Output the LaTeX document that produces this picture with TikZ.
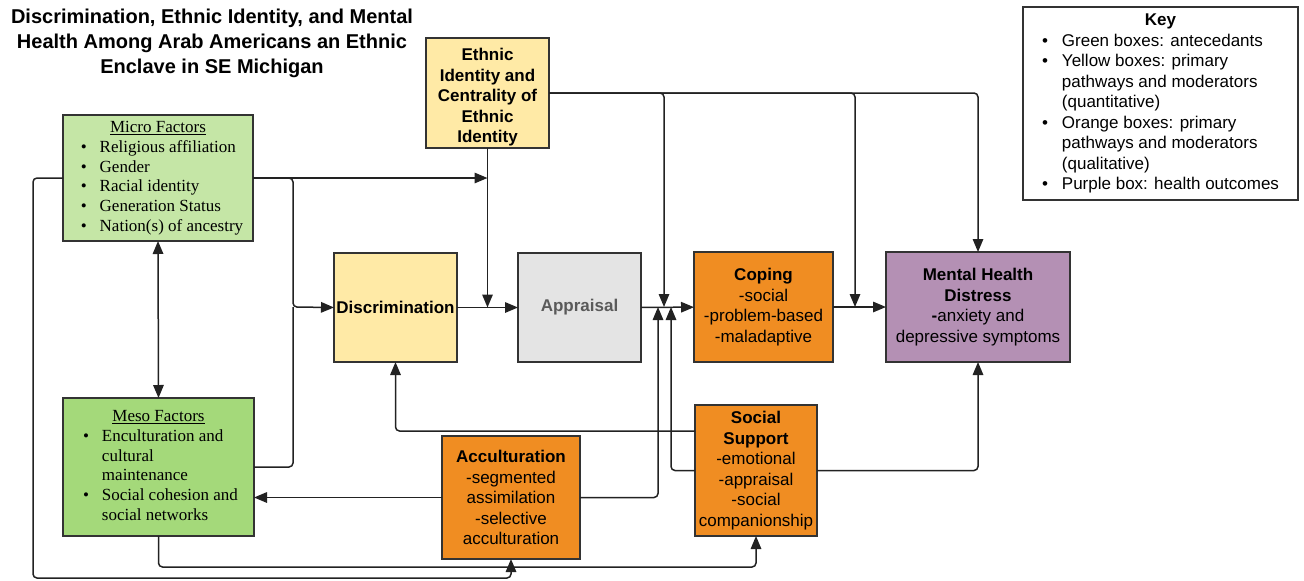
\documentclass[tikz,border=0pt]{standalone}
\usepackage{fontspec}
\setmainfont{Liberation Sans}
\newfontfamily\serifface{Liberation Serif}
\usetikzlibrary{arrows.meta}

\definecolor{microgreen}{HTML}{C5E6A6}
\definecolor{mesogreen}{HTML}{A4D97A}
\definecolor{idyellow}{HTML}{FFEAA6}
\definecolor{appgray}{HTML}{E4E4E4}
\definecolor{copeorange}{HTML}{F08D22}
\definecolor{mhpurple}{HTML}{B490B4}
\definecolor{boxline}{HTML}{333333}
\definecolor{linecol}{HTML}{222222}
\definecolor{apptext}{HTML}{5A5A5A}

\begin{document}
\begin{tikzpicture}[x=1pt,y=-1pt,
  box/.style={draw=boxline, line width=1.5pt, inner sep=0pt, outer sep=0pt,
    anchor=north west, align=center, font=\fontsize{17}{20.5}\selectfont},
  conn/.style={draw=linecol, line width=1.5pt, rounded corners=4pt},
  arr/.style={conn, -{Triangle[length=13pt,width=10.5pt]}},
  arrboth/.style={conn, {Triangle[length=13pt,width=10.5pt]}-{Triangle[length=13pt,width=10.5pt]}},
  sertext/.style={font=\serifface\fontsize{17}{19.8}\selectfont}
]
\useasboundingbox (0,0) rectangle (1304,581);

% title
\node[font=\bfseries\fontsize{20}{25}\selectfont, align=center] (title) at (212,43)
  {Discrimination, Ethnic Identity, and Mental\\Health Among Arab Americans an Ethnic\\Enclave in SE Michigan};

% key
\node[box, minimum width=275pt, minimum height=193pt] (key) at (1023,7)
  {\begin{tabular}{@{}l@{\hspace{14pt}}l@{}}
   \multicolumn{2}{c}{\textbf{Key}}\\
   \textbullet & Green boxes: antecedants\\
   \textbullet & Yellow boxes: primary\\
               & pathways and moderators\\
               & (quantitative)\\
   \textbullet & Orange boxes: primary\\
               & pathways and moderators\\
               & (qualitative)\\
   \textbullet & Purple box: health outcomes
   \end{tabular}};

% antecedent boxes
\node[box, sertext, fill=microgreen, minimum width=190pt, minimum height=126pt] (micro) at (63,115)
  {\begin{tabular}{@{\hspace{8pt}}l@{\hspace{13pt}}l@{}}
   \multicolumn{2}{c}{\underline{Micro Factors}}\\
   \textbullet & Religious affiliation\\
   \textbullet & Gender\\
   \textbullet & Racial identity\\
   \textbullet & Generation Status\\
   \textbullet & Nation(s) of ancestry
   \end{tabular}};
\node[box, sertext, fill=mesogreen, minimum width=191pt, minimum height=138pt] (meso) at (63,398)
  {\begin{tabular}{@{\hspace{4pt}}l@{\hspace{13pt}}l@{}}
   \multicolumn{2}{c}{\underline{Meso Factors}}\\
   \textbullet & Enculturation and\\
               & cultural\\
               & maintenance\\
   \textbullet & Social cohesion and\\
               & social networks
   \end{tabular}};

% pathway boxes
\node[box, font=\bfseries\fontsize{17}{20.5}\selectfont, fill=idyellow, minimum width=123pt, minimum height=110pt] (ethnic) at (426,38)
  {\rule{0pt}{21pt}Ethnic\\Identity and\\Centrality of\\Ethnic\\Identity};
\node[box, font=\bfseries\fontsize{17}{20.5}\selectfont, fill=idyellow, minimum width=123pt, minimum height=109pt] (disc) at (334,253)
  {Discrimination};
\node[box, font=\bfseries\fontsize{17}{20.5}\selectfont, text=apptext, fill=appgray, minimum width=123pt, minimum height=109pt] (appr) at (518,253)
  {Appraisal};
\node[box, fill=copeorange, minimum width=139pt, minimum height=110pt] (coping) at (694,252)
  {\textbf{Coping}\\-social\\-problem-based\\-maladaptive};
\node[box, fill=mhpurple, minimum width=184pt, minimum height=110pt] (mh) at (886,252)
  {\textbf{Mental Health}\\\textbf{Distress}\\\textbf{-}anxiety and\\depressive symptoms};
\node[box, fill=copeorange, minimum width=122pt, minimum height=131pt] (soc) at (695,405)
  {\textbf{Social}\\\textbf{Support}\\-emotional\\-appraisal\\-social\\companionship};
\node[box, fill=copeorange, minimum width=138pt, minimum height=123pt] (acc) at (442,436)
  {\textbf{Acculturation}\\-segmented\\assimilation\\-selective\\acculturation};

% junction points on the main pathway
\coordinate (jleft) at (293,307);
\coordinate (jacc) at (658,307);
\coordinate (jeth) at (664,307);
\coordinate (jsoc) at (671,307);
\coordinate (jcope) at (855,307);

% main pathway
\draw[arr] (disc) -- (appr);
\draw[arr] (appr) -- (coping);
\draw[arr] (coping) -- (mh);

% antecedents
\draw[arr] (micro.east) -- (micro.east -| ethnic.south);
\draw[arr] (micro.east) -| (jleft) -- (disc.west);
\draw[conn] (meso.east) -| (jleft);
\draw[arrboth] (micro.south) -- (meso.north);
\draw[arr] (micro.west) -- ++(-30,0) |- ([yshift=-19pt]acc.south) -- (acc.south);
\draw[arr] (meso.south) -- ++(0,31) -| (soc.south);

% ethnic identity as moderator
\draw[arr] (ethnic.south) -- (ethnic.south |- disc.east);
\draw[arr] (ethnic.east) -| (jeth);
\draw[arr] (ethnic.east) -| (jcope);
\draw[arr] (ethnic.east) -| (mh.north);

% acculturation and social support
\draw[arr] (acc.west) -- (acc.west -| meso.east);
\draw[arr] (acc.east) -| (jacc);
\draw[arr] (soc.west) -| (jsoc);
\draw[arr] ([yshift=39.5pt]soc.west) -| (disc.south);
\draw[arr] (soc.east) -| (mh.south);
\end{tikzpicture}
\end{document}
